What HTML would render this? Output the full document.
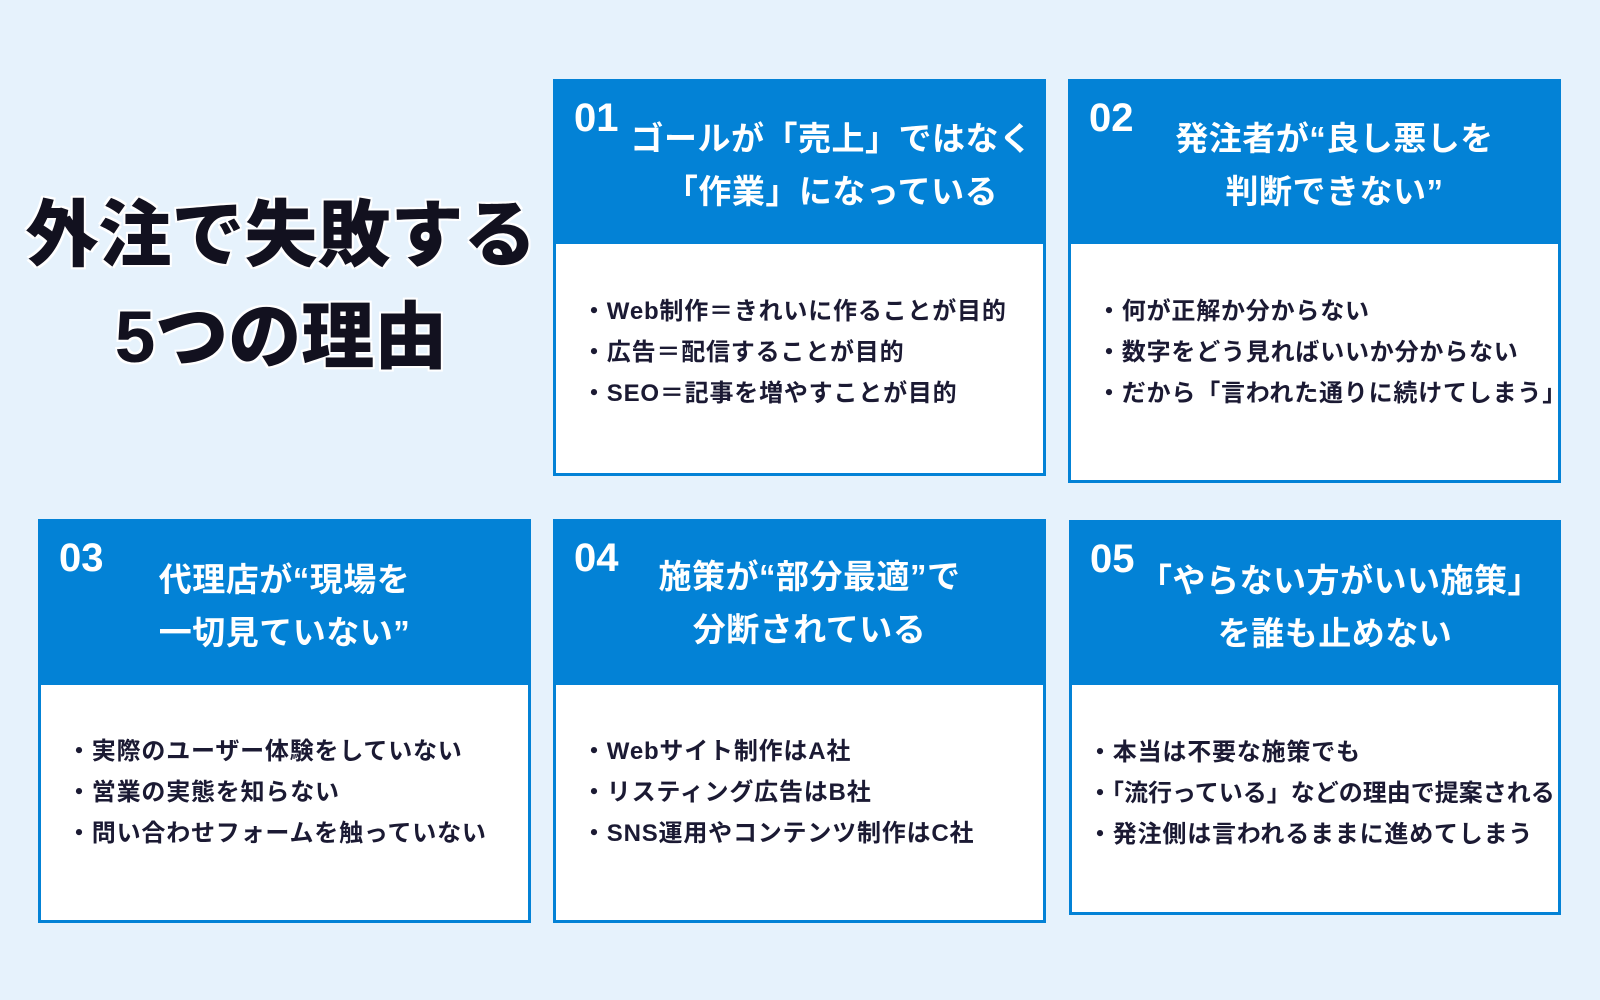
<!DOCTYPE html>
<html><head><meta charset="utf-8"><style>
*{margin:0;padding:0;box-sizing:border-box}
body{width:1600px;height:1000px;background:#e6f2fc;position:relative;overflow:hidden;font-family:"Liberation Sans","Noto Sans CJK JP",sans-serif}
.title{position:absolute;left:0;width:562px;text-align:center;font-size:73px;font-weight:900;color:#12111f;text-shadow:0 0 3px #fff,0 0 3px #fff,0 0 3px #fff,2px 2px 0 #fff,-2px -2px 0 #fff,2px -2px 0 #fff,-2px 2px 0 #fff;line-height:1}
.box{position:absolute;border:3px solid #0382d6;background:#fff}
.hd{position:absolute;left:0;right:0;top:0;background:#0382d6;height:160px}
.num{position:absolute;left:18px;top:14px;color:#fff;font-size:40px;font-weight:700;font-family:"Liberation Sans",sans-serif}
.hl{position:absolute;left:40px;right:0;text-align:center;color:#fff;font-size:33px;font-weight:700;line-height:1;white-space:nowrap;letter-spacing:0.5px}
.bl{position:absolute;left:26px;font-size:24px;font-weight:700;color:#1b1a33;line-height:1;white-space:nowrap;letter-spacing:0.8px}
</style></head><body>
<div class="title" style="top:199px">外注で失敗する</div>
<div class="title" style="top:301px">5つの理由</div>

<div class="box" style="left:553px;top:79px;width:493px;height:397px">
 <div class="hd" style="height:162px"><div class="num">01</div>
 <div class="hl" style="top:40px;left:64px">ゴールが「売上」ではなく</div>
 <div class="hl" style="top:93px;left:64px">「作業」になっている</div></div>
 <div class="bl" style="top:218px">・Web制作＝きれいに作ることが目的</div>
 <div class="bl" style="top:259px">・広告＝配信することが目的</div>
 <div class="bl" style="top:300px">・SEO＝記事を増やすことが目的</div>
</div>

<div class="box" style="left:1068px;top:79px;width:493px;height:404px">
 <div class="hd" style="height:162px"><div class="num">02</div>
 <div class="hl" style="top:40px">発注者が“良し悪しを</div>
 <div class="hl" style="top:93px">判断できない”</div></div>
 <div class="bl" style="top:218px">・何が正解か分からない</div>
 <div class="bl" style="top:259px">・数字をどう見ればいいか分からない</div>
 <div class="bl" style="top:300px">・だから「言われた通りに続けてしまう」</div>
</div>

<div class="box" style="left:38px;top:519px;width:493px;height:404px">
 <div class="hd" style="height:163px"><div class="num">03</div>
 <div class="hl" style="top:41px;left:0">代理店が“現場を</div>
 <div class="hl" style="top:94px;left:0">一切見ていない”</div></div>
 <div class="bl" style="top:218px">・実際のユーザー体験をしていない</div>
 <div class="bl" style="top:259px">・営業の実態を知らない</div>
 <div class="bl" style="top:300px">・問い合わせフォームを触っていない</div>
</div>

<div class="box" style="left:553px;top:519px;width:493px;height:404px">
 <div class="hd" style="height:163px"><div class="num">04</div>
 <div class="hl" style="top:38px;left:20px">施策が“部分最適”で</div>
 <div class="hl" style="top:91px;left:20px">分断されている</div></div>
 <div class="bl" style="top:218px">・Webサイト制作はA社</div>
 <div class="bl" style="top:259px">・リスティング広告はB社</div>
 <div class="bl" style="top:300px">・SNS運用やコンテンツ制作はC社</div>
</div>

<div class="box" style="left:1069px;top:520px;width:492px;height:395px">
 <div class="hd" style="height:162px"><div class="num">05</div>
 <div class="hl" style="top:41px;left:50px">「やらない方がいい施策」</div>
 <div class="hl" style="top:94px;left:40px">を誰も止めない</div></div>
 <div class="bl" style="top:218px;left:16px">・本当は不要な施策でも</div>
 <div class="bl" style="top:259px;left:16px;letter-spacing:0">・「流行っている」などの理由で提案される</div>
 <div class="bl" style="top:300px;left:16px">・発注側は言われるままに進めてしまう</div>
</div>
</body></html>
